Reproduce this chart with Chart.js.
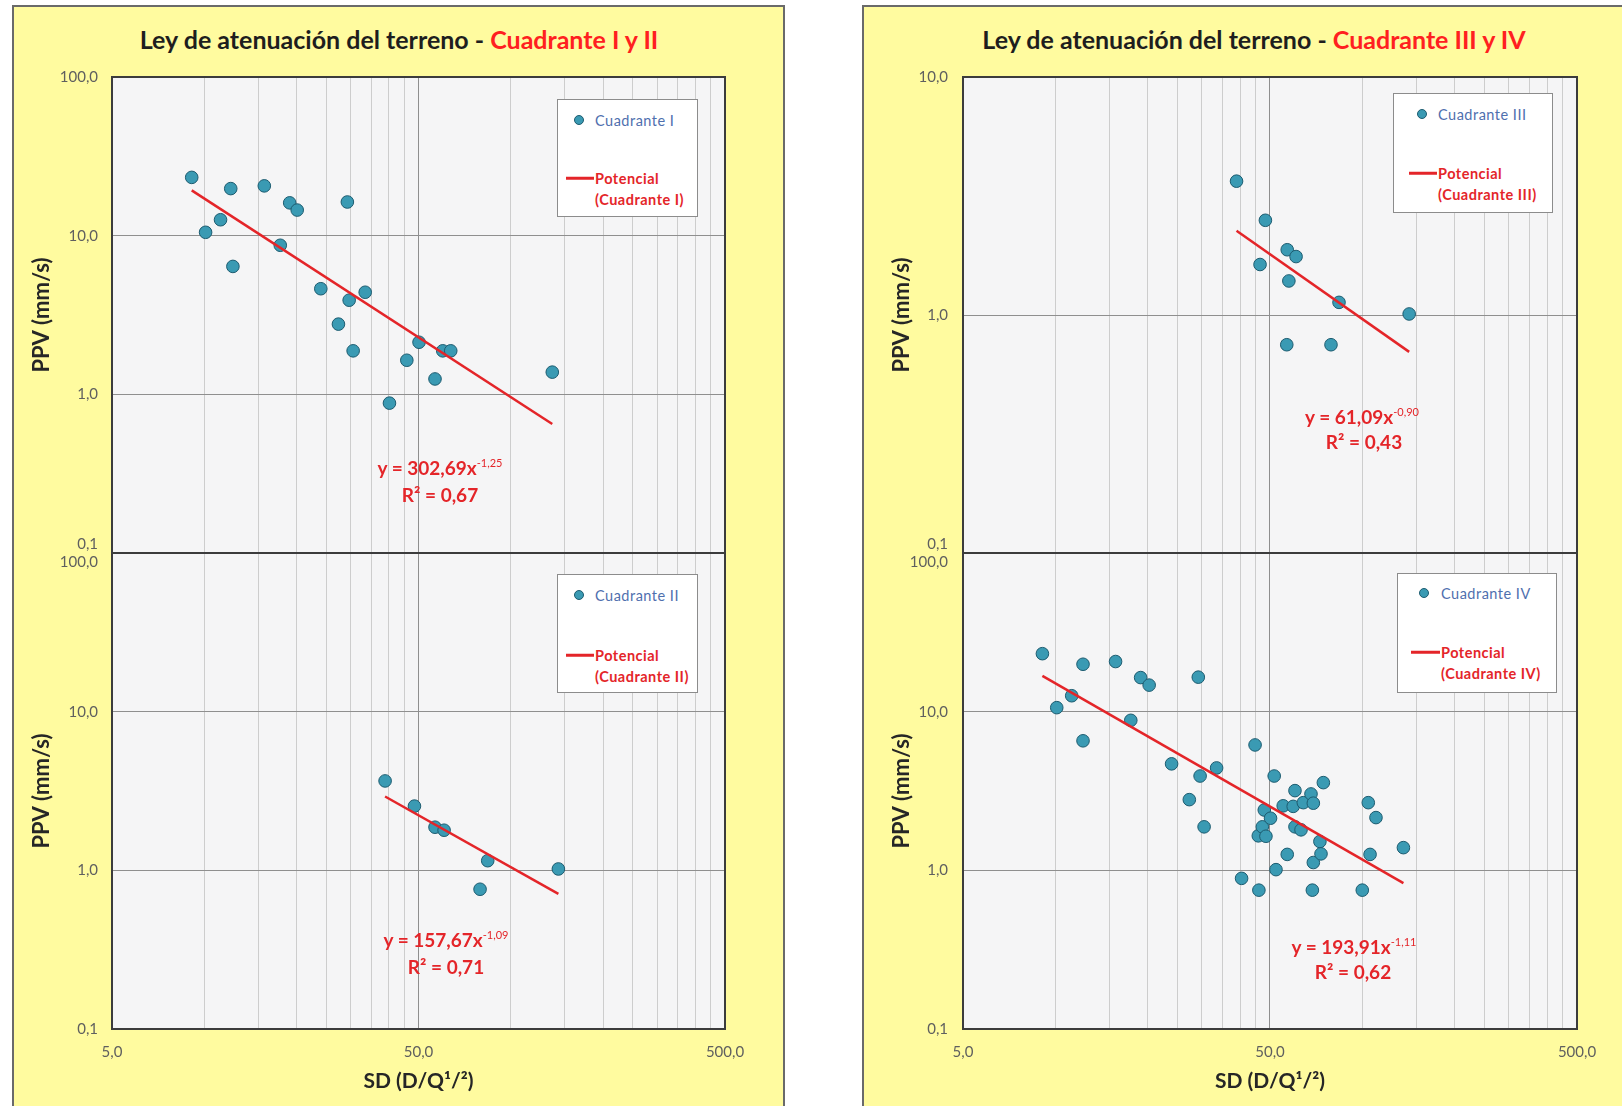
<!DOCTYPE html>
<html>
<head>
<meta charset="utf-8">
<script src="https://cdn.jsdelivr.net/npm/chart.js@4/dist/chart.umd.min.js"></script>
<style>
html,body{margin:0;padding:0;background:#fff;width:1622px;height:1106px;overflow:hidden;font-family:Lato,'Liberation Sans',sans-serif;}
.panel{position:absolute;background:#fffb9f;border:2px solid #6a6a6a;box-sizing:border-box;}
.ptitle{position:absolute;font-weight:bold;font-size:25px;color:#1e1e1e;white-space:nowrap;transform:translate(-50%,-50%);}
.ptitle .red{color:#ff2020;}
canvas{position:absolute;}
.legend{position:absolute;background:#fff;border:1px solid #8c8c8c;box-sizing:border-box;z-index:5;}
.legend .mk{position:absolute;width:10px;height:10px;border-radius:50%;background:#3a9ab3;border:1px solid #1d5c70;box-sizing:border-box;transform:translate(-50%,-50%);}
.legend .ln{position:absolute;height:2.5px;background:#e42529;transform:translateY(-50%);}
.legend .tx{position:absolute;font-size:14.5px;letter-spacing:0.5px;white-space:nowrap;transform:translateY(-50%);}
.legend .blue{color:#4f6fae;}
.legend .redt{color:#e42529;font-weight:bold;}
.eq{position:absolute;color:#e42529;font-weight:bold;font-size:19px;white-space:nowrap;transform:translate(-50%,-50%);z-index:5;}
.eq sup{font-size:11px;vertical-align:8px;line-height:0;font-weight:normal;}
</style>
</head>
<body>
<div class="panel" style="left:12px;top:5px;width:773px;height:1120px;"></div>
<div class="panel" style="left:862px;top:5px;width:800px;height:1120px;"></div>
<div class="ptitle" style="left:399px;top:39px;">Ley de atenuación del terreno - <span class="red">Cuadrante I y II</span></div>
<div class="ptitle" style="left:1254px;top:39px;">Ley de atenuación del terreno - <span class="red">Cuadrante III y IV</span></div>

<canvas id="c1"></canvas>
<canvas id="c2"></canvas>
<canvas id="c3"></canvas>
<canvas id="c4"></canvas>

<div id="overlays"></div>

<script>
// ---------------- DATA ----------------
// Cuadrante I
const q1SD  = [9.1, 10.1, 11.3, 12.2, 12.4, 15.7, 17.7, 19.0, 20.1, 24.0, 27.4, 29.3, 29.7, 30.6, 33.5, 40.2, 45.8, 50.2, 56.6, 60.0, 63.7, 136.6];
const q1PPV = [23.3, 10.5, 12.6, 19.8, 6.4, 20.6, 8.7, 16.1, 14.5, 4.63, 2.77, 16.3, 3.92, 1.88, 4.40, 0.88, 1.64, 2.13, 1.25, 1.88, 1.88, 1.38];
const q1TrendSD  = [9.1, 136.6];
const q1TrendPPV = [19.3, 0.65];

// Cuadrante II
const q2SD  = [38.9, 48.5, 56.6, 60.6, 79.4, 84.1, 143.0];
const q2PPV = [3.66, 2.54, 1.87, 1.79, 0.76, 1.15, 1.02];
const q2TrendSD  = [38.9, 143.0];
const q2TrendPPV = [2.92, 0.71];

// Cuadrante III
const q3SD  = [38.9, 46.4, 48.3, 56.7, 56.9, 57.6, 60.8, 79.0, 83.9, 142.0];
const q3PPV = [3.65, 1.63, 2.50, 0.75, 1.88, 1.39, 1.76, 0.75, 1.13, 1.01];
const q3TrendSD  = [38.9, 142.0];
const q3TrendPPV = [2.26, 0.70];

// Cuadrante IV
const q4SD  = [9.07, 10.1, 11.3, 12.3, 12.3, 15.7, 17.6, 18.95, 20.2, 23.9, 27.3, 29.2, 29.6, 30.5, 33.5, 40.4,
               44.7, 46.0, 45.8, 47.2, 47.9, 48.5, 50.2, 51.6, 52.3, 55.2, 56.9, 59.5, 60.3, 60.3, 63.1, 64.2,
               68.0, 68.7, 69.2, 69.2, 72.7, 73.3, 74.6, 99.9, 104.5, 105.9, 110.7, 136.0];
const q4PPV = [23.2, 10.6, 12.6, 19.9, 6.55, 20.7, 8.82, 16.4, 14.7, 4.69, 2.79, 16.5, 3.93, 1.88, 4.42, 0.89,
               6.17, 0.75, 1.65, 1.88, 2.40, 1.64, 2.13, 3.93, 1.01, 2.55, 1.26, 2.53, 3.18, 1.88, 1.80, 2.67,
               3.03, 0.75, 2.65, 1.12, 1.52, 1.27, 3.57, 0.75, 2.67, 1.26, 2.15, 1.39];
const q4TrendSD  = [9.07, 136.0];
const q4TrendPPV = [16.8, 0.83];

// Axes
const xTickValues = [5, 50, 500];
const xTickLabels = ['5,0', '50,0', '500,0'];
const xGridValues = [5, 10, 15, 20, 25, 30, 35, 40, 45, 50, 100, 150, 200, 250, 300, 350, 400, 450, 500];
const yTickValuesWide = [0.1, 1, 10, 100];
const yTickLabelsWide = ['0,1', '1,0', '10,0', '100,0'];
const yTickValuesQ3 = [0.1, 1, 10];
const yTickLabelsQ3 = ['0,1', '1,0', '10,0'];

const seriesNames = ['Cuadrante I', 'Cuadrante II', 'Cuadrante III', 'Cuadrante IV'];
const trendNames = ['Potencial (Cuadrante I)', 'Potencial (Cuadrante II)', 'Potencial (Cuadrante III)', 'Potencial (Cuadrante IV)'];
const eqCoef = ['302,69', '157,67', '61,09', '193,91'];
const eqExp  = ['-1,25', '-1,09', '-0,90', '-1,11'];
const eqR2   = ['0,67', '0,71', '0,43', '0,62'];

// ---------------- STYLE ----------------
const FONT = "Lato, 'Liberation Sans', sans-serif";
Chart.defaults.font.family = FONT;
const RED = '#e42529';
const PT_FILL = '#3a9ab3';
const PT_BORDER = '#1d5c70';
const GRID_MAJOR = '#8f8f8f';
const GRID_MINOR = '#cdcdcd';
const TICK_COLOR = '#5f5f5f';
const TITLE_COLOR = '#262626';

const zip = (xs, ys) => xs.map((x, i) => ({x: x, y: ys[i]}));

const framePlugin = {
  id: 'plotFrame',
  beforeDraw(chart) {
    const {ctx, chartArea: a} = chart;
    ctx.save();
    ctx.fillStyle = '#f5f5f6';
    ctx.fillRect(a.left, a.top, a.right - a.left, a.bottom - a.top);
    ctx.restore();
  },
  afterDraw(chart) {
    const {ctx, chartArea: a} = chart;
    ctx.save();
    ctx.strokeStyle = '#3c3c3c';
    ctx.lineWidth = 2;
    ctx.strokeRect(a.left, a.top, a.right - a.left, a.bottom - a.top);
    ctx.restore();
  }
};

function yCallback(values, labels, shiftFirst, shiftLast) {
  return function(value) {
    const i = values.findIndex(v => Math.abs(v - value) < 1e-9 * Math.max(1, v));
    if (i < 0) return '';
    const lab = labels[i];
    if (shiftFirst && i === 0) return [lab, ''];
    if (shiftLast && i === values.length - 1) return ['', lab];
    return lab;
  };
}

function makeChart(id, cfg) {
  const cv = document.getElementById(id);
  cv.width = cfg.cw; cv.height = cfg.ch;
  cv.style.left = cfg.cx + 'px'; cv.style.top = cfg.cy + 'px';
  cv.style.width = cfg.cw + 'px'; cv.style.height = cfg.ch + 'px';
  const padTop = cfg.plot.top - cfg.cy;
  const padRight = cfg.cx + cfg.cw - cfg.plot.right;
  const yW = cfg.plot.left - cfg.cx;
  const xH = cfg.cy + cfg.ch - cfg.plot.bottom;
  const yVals = cfg.yVals;
  return new Chart(cv, {
    type: 'scatter',
    data: {
      datasets: [
        {label: cfg.trendName, data: cfg.trend, showLine: true, borderColor: RED, borderWidth: 2.5,
         pointRadius: 0, fill: false, order: 0},
        {label: cfg.name, data: cfg.pts, backgroundColor: PT_FILL, borderColor: PT_BORDER, borderWidth: 1,
         pointRadius: 6.3, order: 1}
      ]
    },
    options: {
      responsive: false, animation: false, maintainAspectRatio: false,
      layout: {padding: {left: 0, top: padTop, right: padRight, bottom: 0}},
      plugins: {legend: {display: false}, tooltip: {enabled: false}},
      scales: {
        x: {
          type: 'logarithmic', min: 5, max: 500,
          afterBuildTicks: s => { s.ticks = xGridValues.map(v => ({value: v})); },
          afterFit: s => { s.height = xH; s.paddingLeft = 0; s.paddingRight = 0; },
          grid: {
            color: c => (c.tick && xTickValues.includes(c.tick.value)) ? GRID_MAJOR : GRID_MINOR,
            lineWidth: 1, drawTicks: false
          },
          border: {display: false},
          ticks: {
            display: cfg.showX, autoSkip: false, maxRotation: 0, padding: 14,
            color: TICK_COLOR, font: {size: 15},
            callback: v => { const i = xTickValues.indexOf(v); return i < 0 ? '' : xTickLabels[i]; }
          },
          title: {display: cfg.showX, text: 'SD (D/Q¹/²)', color: TITLE_COLOR,
                  font: {size: 21, weight: 'bold'}, padding: {top: 0, bottom: 12}}
        },
        y: {
          type: 'logarithmic', min: yVals[0], max: yVals[yVals.length - 1],
          afterBuildTicks: s => { s.ticks = yVals.map(v => ({value: v})); },
          afterFit: s => { s.width = yW; s.paddingTop = 0; s.paddingBottom = 0; },
          grid: {color: GRID_MAJOR, lineWidth: 1, drawTicks: false},
          border: {display: false},
          ticks: {
            autoSkip: false, padding: cfg.tickPad, color: TICK_COLOR, font: {size: 15},
            callback: yCallback(yVals, cfg.yLabels, cfg.shiftFirst, cfg.shiftLast)
          },
          title: {display: true, text: 'PPV (mm/s)', color: TITLE_COLOR,
                  font: {size: 22, weight: 'bold'}, padding: {top: cfg.titlePad, bottom: 0}}
        }
      }
    },
    plugins: [framePlugin]
  });
}

makeChart('c1', {cx: 12, cy: 55, cw: 773, ch: 525, plot: {left: 112, top: 77, right: 725, bottom: 553},
  yVals: yTickValuesWide, yLabels: yTickLabelsWide, shiftFirst: true, shiftLast: false, showX: false,
  tickPad: 14, titlePad: 17, name: seriesNames[0], trendName: trendNames[0],
  pts: zip(q1SD, q1PPV), trend: zip(q1TrendSD, q1TrendPPV)});
makeChart('c2', {cx: 12, cy: 525, cw: 773, ch: 581, plot: {left: 112, top: 553, right: 725, bottom: 1029},
  yVals: yTickValuesWide, yLabels: yTickLabelsWide, shiftFirst: false, shiftLast: true, showX: true,
  tickPad: 14, titlePad: 17, name: seriesNames[1], trendName: trendNames[1],
  pts: zip(q2SD, q2PPV), trend: zip(q2TrendSD, q2TrendPPV)});
makeChart('c3', {cx: 862, cy: 55, cw: 760, ch: 525, plot: {left: 963, top: 77, right: 1577, bottom: 553},
  yVals: yTickValuesQ3, yLabels: yTickLabelsQ3, shiftFirst: true, shiftLast: false, showX: false,
  tickPad: 15, titlePad: 27, name: seriesNames[2], trendName: trendNames[2],
  pts: zip(q3SD, q3PPV), trend: zip(q3TrendSD, q3TrendPPV)});
makeChart('c4', {cx: 862, cy: 525, cw: 760, ch: 581, plot: {left: 963, top: 553, right: 1577, bottom: 1029},
  yVals: yTickValuesWide, yLabels: yTickLabelsWide, shiftFirst: false, shiftLast: true, showX: true,
  tickPad: 15, titlePad: 27, name: seriesNames[3], trendName: trendNames[3],
  pts: zip(q4SD, q4PPV), trend: zip(q4TrendSD, q4TrendPPV)});

// ---------------- LEGENDS & EQUATIONS (HTML text) ----------------
const ov = document.getElementById('overlays');
function legend(i, box) {
  const d = document.createElement('div');
  d.className = 'legend';
  d.style.left = box.x + 'px'; d.style.top = box.y + 'px';
  d.style.width = box.w + 'px'; d.style.height = box.h + 'px';
  const p = trendNames[i].split(' ');
  d.innerHTML =
    `<span class="mk" style="left:${box.mx}px;top:${box.my}px"></span>` +
    `<span class="tx blue" style="left:${box.tx}px;top:${box.my}px">${seriesNames[i]}</span>` +
    `<span class="ln" style="left:${box.l0}px;width:${box.l1 - box.l0}px;top:${box.ly}px"></span>` +
    `<span class="tx redt" style="left:${box.tx}px;top:${box.ly}px">${p[0]}</span>` +
    `<span class="tx redt" style="left:${box.tx}px;top:${box.ly + 21}px">${p.slice(1).join(' ')}</span>`;
  ov.appendChild(d);
}
legend(0, {x: 557, y: 99, w: 141, h: 118, mx: 21, my: 20, tx: 37, l0: 8, l1: 36, ly: 78});
legend(1, {x: 557, y: 574, w: 141, h: 119, mx: 21, my: 20, tx: 37, l0: 8, l1: 36, ly: 80});
legend(2, {x: 1393, y: 93, w: 160, h: 120, mx: 28, my: 20, tx: 44, l0: 15, l1: 43, ly: 79});
legend(3, {x: 1397, y: 573, w: 160, h: 120, mx: 26, my: 19, tx: 43, l0: 13, l1: 42, ly: 78});

function equation(i, x1, y1, x2, y2) {
  const a = document.createElement('div');
  a.className = 'eq';
  a.style.left = x1 + 'px'; a.style.top = y1 + 'px';
  a.innerHTML = `y = ${eqCoef[i]}x<sup>${eqExp[i]}</sup>`;
  ov.appendChild(a);
  const b = document.createElement('div');
  b.className = 'eq';
  b.style.left = x2 + 'px'; b.style.top = y2 + 'px';
  b.innerHTML = `R² = ${eqR2[i]}`;
  ov.appendChild(b);
}
equation(0, 440, 467, 440, 494);
equation(1, 446, 939, 446, 966);
equation(2, 1362, 416, 1364, 441);
equation(3, 1354, 946, 1353, 971);
</script>
</body>
</html>
